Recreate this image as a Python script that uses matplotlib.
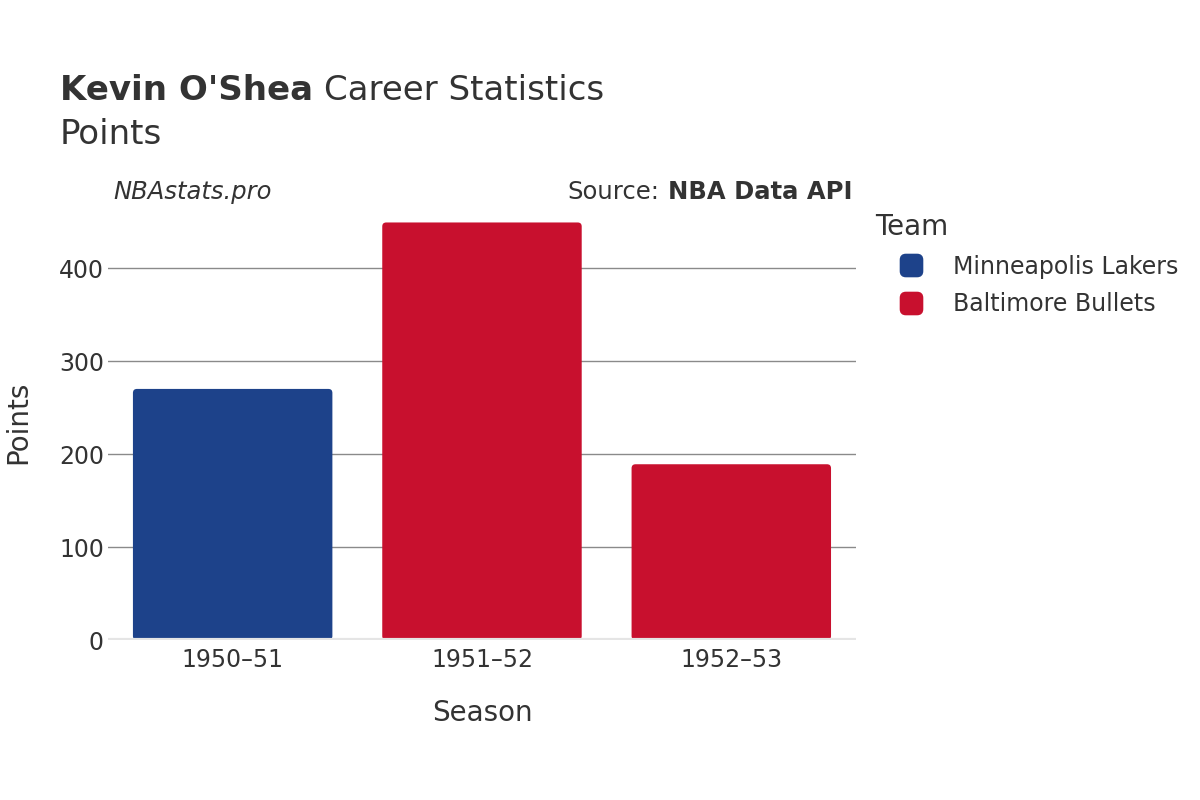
import matplotlib
matplotlib.use("Agg")
import matplotlib.pyplot as plt
from matplotlib.patches import FancyBboxPatch
from matplotlib.lines import Line2D
from matplotlib.markers import MarkerStyle

seasons = ["1950\u201351", "1951\u201352", "1952\u201353"]
points = [270, 449, 189]
teams = ["Minneapolis Lakers", "Baltimore Bullets", "Baltimore Bullets"]
team_colors = {"Minneapolis Lakers": "#1D428A", "Baltimore Bullets": "#C8102E"}
legend_teams = ["Minneapolis Lakers", "Baltimore Bullets"]
yticks = [0, 100, 200, 300, 400]

TXT = "#333333"
plt.rcParams["font.family"] = ["DejaVu Sans"]

fig = plt.figure(figsize=(12, 8), dpi=100)
ax = fig.add_axes([0.09, 0.2, 0.6233, 0.544])

x = range(len(seasons))
bars = ax.bar(x, points, width=0.8, color=[team_colors[t] for t in teams])
ax.set_xlim(-0.5, len(seasons) - 0.5)
ax.set_ylim(0, 468)

# swap plain bars for slightly rounded ones
ry = 4.3
rx = 0.016
for b in list(bars):
    fb = FancyBboxPatch((b.get_x(), b.get_y()), b.get_width(), b.get_height(),
                        boxstyle=f"round,pad=0,rounding_size={rx}",
                        mutation_aspect=ry / rx,
                        facecolor=b.get_facecolor(), edgecolor="none", zorder=2)
    ax.add_patch(fb)
    b.remove()

ax.set_yticks(yticks)
ax.set_xticks(list(x))
ax.set_xticklabels(seasons)
ax.tick_params(axis="both", length=0, labelsize=17, labelcolor=TXT)
ax.tick_params(axis="x", pad=6)
ax.tick_params(axis="y", pad=3)
ax.grid(axis="y", color="#8a8a8a", linewidth=1)
ax.set_axisbelow(True)
for s in ax.spines.values():
    s.set_visible(False)
ax.axhline(0, color="#e5e5e5", linewidth=3, zorder=3)

ax.set_xlabel("Season", fontsize=20, color=TXT, labelpad=19)
ax.set_ylabel("Points", fontsize=20, color=TXT, labelpad=19)

# title
fig.canvas.draw()
r = fig.canvas.get_renderer()
t1 = fig.text(60 / 1200, 1 - 100 / 800, "Kevin O'Shea", fontsize=24.5, fontweight="bold",
              color=TXT, va="baseline")
bb = t1.get_window_extent(renderer=r)
fig.text(bb.x1 / 1200 + 0.009, 1 - 100 / 800, "Career Statistics", fontsize=24.5,
         color=TXT, va="baseline")
fig.text(60 / 1200, 1 - 144 / 800, "Points", fontsize=24.5, color=TXT, va="baseline")

fig.text(113 / 1200, 1 - 192 / 800, "NBAstats.pro", fontsize=17.5, style="italic",
         color=TXT, va="center")
src = fig.text(852 / 1200, 1 - 192 / 800, "NBA Data API", fontsize=17.5, fontweight="bold",
               color=TXT, va="center", ha="right")
sb = src.get_window_extent(renderer=r)
fig.text(sb.x0 / 1200 - 0.007, 1 - 192 / 800, "Source:", fontsize=17.5,
         color=TXT, va="center", ha="right")

# rounded square legend marker
rs = FancyBboxPatch((-0.5, -0.5), 1, 1, boxstyle="round,pad=0,rounding_size=0.25")
rpath = rs.get_path()
handles = [Line2D([], [], marker=MarkerStyle(rpath), linestyle="none", markersize=16,
                  markerfacecolor=team_colors[t], markeredgecolor=team_colors[t])
           for t in legend_teams]
leg = fig.legend(handles, legend_teams, title="Team",
                 loc="upper left", bbox_to_anchor=(866 / 1200, 1 - 204 / 800),
                 frameon=False, fontsize=17, title_fontsize=20, alignment="left",
                 handletextpad=0.26, handlelength=3.04, labelspacing=0.56,
                 borderaxespad=0)
plt.setp(leg.get_texts(), color=TXT)
leg.get_title().set_color(TXT)

fig.savefig("out.png", dpi=100)
